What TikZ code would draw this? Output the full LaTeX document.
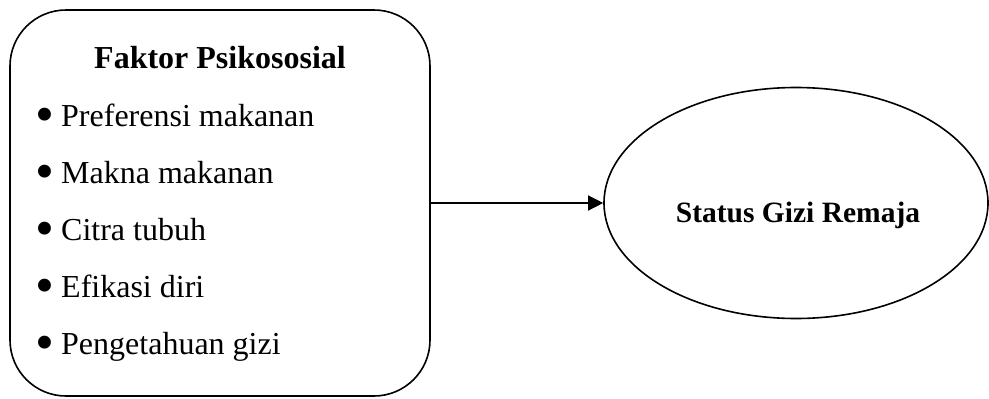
\documentclass[tikz,border=0pt]{standalone}
\usepackage{fontspec}
\setmainfont{Liberation Serif}
\usetikzlibrary{shapes.geometric,arrows.meta}
\tikzset{
  frame/.style={draw, line width=1.6pt, rounded corners=56pt, minimum width=420pt, minimum height=386pt, inner sep=0pt},
  oval/.style={draw, ellipse, line width=1.6pt, minimum width=384pt, minimum height=231pt, inner sep=0pt},
  item/.style={anchor=base west, inner sep=0pt, font=\fontsize{32}{36}\selectfont},
  dot/.style={anchor=base, inner sep=0pt, font=\fontsize{54}{60}\selectfont},
  head/.style={anchor=base, inner sep=0pt, font=\fontsize{32}{36}\selectfont\bfseries},
  link/.style={line width=1.3pt, -{Triangle[length=15pt,width=15pt]}}
}
\begin{document}
\begin{tikzpicture}[x=1pt,y=-1pt]
\useasboundingbox (0,0) rectangle (989,399);
\node[frame] (box) at (220,203) {};
\node[oval] (goal) at (796,203) {};
\node[head] (title) at (220,68) {Faktor Psikososial};
\node[item] (i1) at (61,126) {Preferensi makanan};
\node[item] (i2) at (61,183) {Makna makanan};
\node[item] (i3) at (61,240) {Citra tubuh};
\node[item] (i4) at (61,297) {Efikasi diri};
\node[item] (i5) at (61,354) {Pengetahuan gizi};
\node[dot] (b1) at (44.5,132) {\textbullet};
\node[dot] (b2) at (44.5,189) {\textbullet};
\node[dot] (b3) at (44.5,246) {\textbullet};
\node[dot] (b4) at (44.5,303) {\textbullet};
\node[dot] (b5) at (44.5,360) {\textbullet};
\node[anchor=base, inner sep=0pt, font=\fontsize{29.5}{34}\selectfont\bfseries] (status) at (798,222) {Status Gizi Remaja};
\draw[link] (box.east) -- (goal.west);
\end{tikzpicture}
\end{document}
